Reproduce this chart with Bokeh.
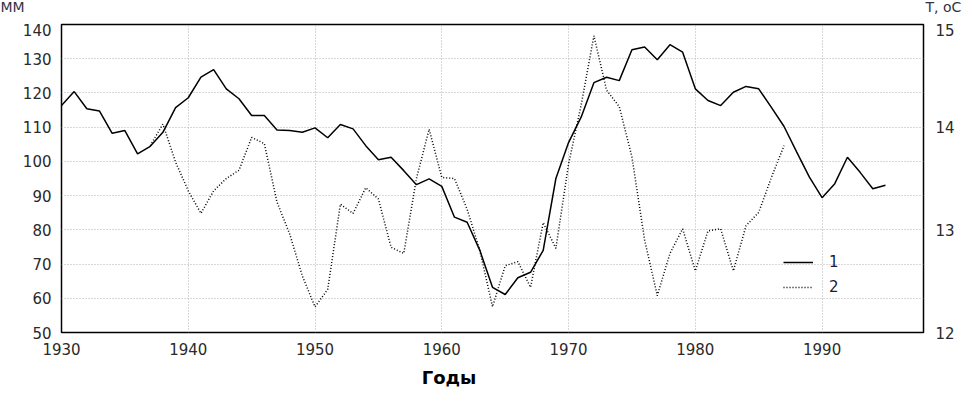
from bokeh.plotting import figure
from bokeh.layouts import column
from bokeh.models import Range1d, LinearAxis, FixedTicker, Legend, LegendItem
from bokeh.core.properties import value
from bokeh.embed import file_html
from bokeh.resources import INLINE

# Series 1: precipitation / runoff, mm (left axis)
years1 = list(range(1930, 1996))
mm = [116.3, 120.4, 115.4, 114.7, 108.2, 109.0, 102.2, 104.4, 108.5, 115.7,
      118.6, 124.6, 126.8, 121.2, 118.3, 113.4, 113.4, 109.2, 109.0, 108.5,
      109.8, 106.9, 110.8, 109.5, 104.6, 100.5, 101.2, 97.3, 93.2, 94.9,
      92.7, 83.7, 82.2, 74.0, 63.2, 61.1, 66.0, 67.6, 74.0, 95.0,
      105.5, 113.0, 123.0, 124.6, 123.6, 132.6, 133.4, 129.7, 134.1, 131.9,
      121.2, 117.8, 116.3, 120.2, 121.9, 121.2, 115.8, 110.2, 102.7, 95.4,
      89.4, 93.5, 101.2, 96.8, 92.0, 93.0]

# Series 2: temperature, oC (right axis)
years2 = list(range(1937, 1988))
temp = [13.82, 14.03, 13.66, 13.38, 13.16, 13.38, 13.50, 13.58, 13.90, 13.84,
        13.27, 12.96, 12.55, 12.25, 12.42, 13.25, 13.16, 13.41, 13.30, 12.83,
        12.77, 13.50, 13.98, 13.51, 13.50, 13.20, 12.80, 12.25, 12.65, 12.69,
        12.44, 13.07, 12.82, 13.64, 14.22, 14.89, 14.36, 14.20, 13.71, 12.90,
        12.36, 12.77, 13.01, 12.60, 12.99, 13.01, 12.60, 13.04, 13.17, 13.51,
        13.82]

x_ticks = [1930, 1940, 1950, 1960, 1970, 1980, 1990]
left_ticks = [50, 60, 70, 80, 90, 100, 110, 120, 130, 140]
right_ticks = [12, 13, 14, 15]
series_labels = ["1", "2"]
left_unit = "MM"
right_unit = "T, oC"
x_title = "Годы"

FONT = "DejaVu Sans"
TXT = "#2a2a2a"
W = 965


def strip(h):
    f = figure(width=W, height=h, output_backend="svg", toolbar_location=None,
               x_range=Range1d(0, W), y_range=Range1d(0, h),
               x_axis_type=None, y_axis_type=None,
               min_border_left=0, min_border_right=0,
               min_border_top=0, min_border_bottom=0,
               frame_align=False)
    f.outline_line_color = None
    f.grid.visible = False
    f.background_fill_color = "white"
    f.border_fill_color = "white"
    return f


# top strip with unit captions
top = strip(23)
top.text(x=[0], y=[16.5], text=[left_unit], text_font=value(FONT),
         text_font_size="14px", text_color="#333344", text_baseline="middle",
         text_align="left")
top.text(x=[925], y=[16.5], text=[right_unit], text_font=value(FONT),
         text_font_size="14px", text_color="#333344", text_baseline="middle",
         text_align="left")

# main plot
p = figure(width=W, height=341, output_backend="svg", toolbar_location=None,
           x_range=Range1d(1930, 1998), y_range=Range1d(50, 140),
           min_border_left=61, min_border_right=42, min_border_top=1,
           min_border_bottom=32)
p.extra_y_ranges = {"temp": Range1d(12, 15)}

p.outline_line_color = "black"
p.outline_line_width = 1.5
p.background_fill_color = "white"
p.border_fill_color = "white"

for ax in [p.xaxis[0], p.yaxis[0]]:
    ax.axis_line_color = None
    ax.major_tick_line_color = None
    ax.minor_tick_line_color = None
    ax.major_tick_in = 0
    ax.major_tick_out = 0
    ax.major_label_text_font = FONT
    ax.major_label_text_font_size = "15px"
    ax.major_label_text_color = TXT

p.xaxis[0].ticker = FixedTicker(ticks=x_ticks)
p.xaxis[0].major_label_standoff = 10
p.yaxis[0].ticker = FixedTicker(ticks=left_ticks)
p.yaxis[0].major_label_standoff = 10

raxis = LinearAxis(y_range_name="temp", ticker=FixedTicker(ticks=right_ticks))
raxis.axis_line_color = None
raxis.major_tick_line_color = None
raxis.minor_tick_line_color = None
raxis.major_tick_in = 0
raxis.major_tick_out = 0
raxis.major_label_standoff = 12
raxis.major_label_text_font = FONT
raxis.major_label_text_font_size = "15px"
raxis.major_label_text_color = TXT
p.add_layout(raxis, "right")

p.xgrid.grid_line_color = "#b0b0b0"
p.xgrid.grid_line_dash = "1 2"
p.xgrid.ticker = FixedTicker(ticks=x_ticks)
p.ygrid.grid_line_color = "#b0b0b0"
p.ygrid.grid_line_dash = "1 2"
p.ygrid.ticker = FixedTicker(ticks=left_ticks)

r1 = p.line(years1, mm, line_color="black", line_width=1.5)
r2 = p.line(years2, temp, y_range_name="temp", line_color="black",
            line_width=1.5, line_dash="1 2")

legend = Legend(items=[LegendItem(label=series_labels[0], renderers=[r1]),
                       LegendItem(label=series_labels[1], renderers=[r2])],
                location=(722, 35), orientation="vertical",
                border_line_color=None, background_fill_alpha=0,
                padding=0, margin=0, spacing=5, glyph_width=30,
                glyph_height=20, label_standoff=16,
                label_text_font=FONT, label_text_font_size="15px",
                label_text_color="#1a1a3a")
p.add_layout(legend)

# bottom strip with axis title
bot = strip(36)
bot.text(x=[448.5], y=[23], text=[x_title], text_font=value(FONT),
         text_font_size="18px", text_font_style="bold", text_color="black",
         text_baseline="middle", text_align="center")

layout = column(top, p, bot, spacing=0)
open("out.html", "w").write(file_html(layout, INLINE))
